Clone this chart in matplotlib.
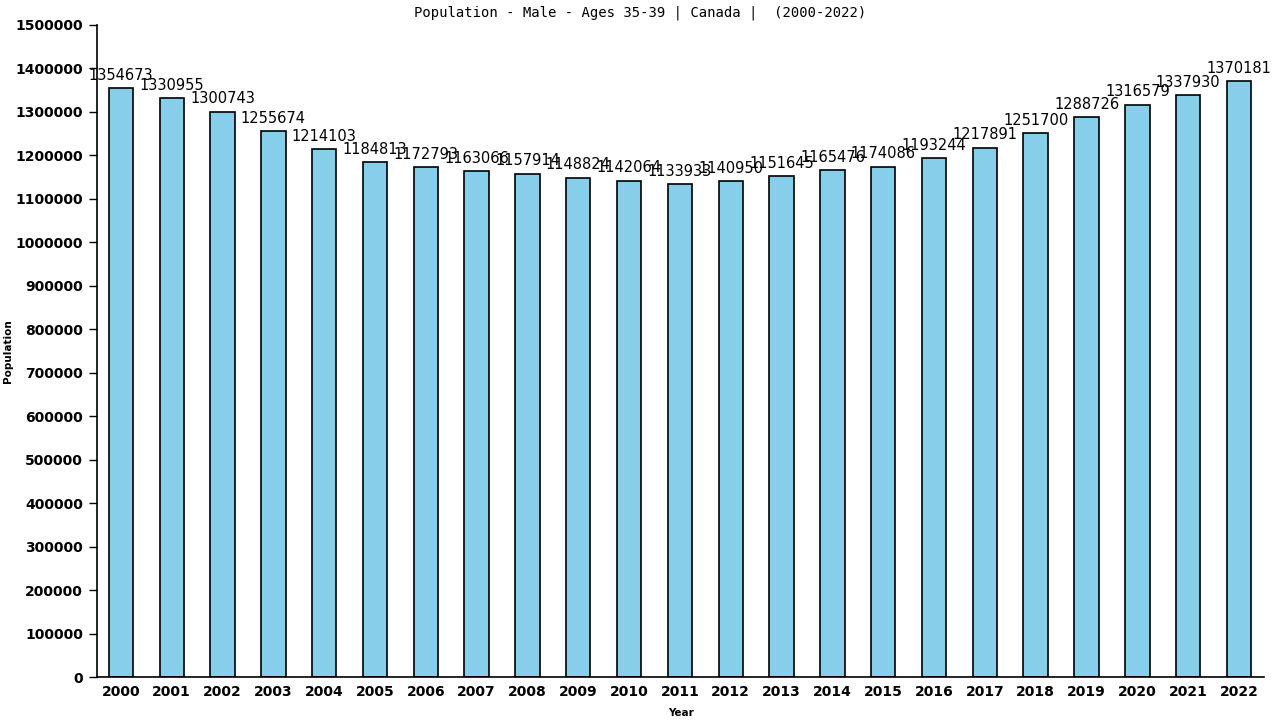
import matplotlib
matplotlib.use('Agg')
import matplotlib.pyplot as plt

years = [str(y) for y in range(2000, 2023)]
population = [1354673, 1330955, 1300743, 1255674, 1214103, 1184813, 1172793,
              1163066, 1157914, 1148824, 1142064, 1133933, 1140950, 1151645,
              1165476, 1174086, 1193244, 1217891, 1251700, 1288726, 1316579,
              1337930, 1370181]
yticks = list(range(0, 1500001, 100000))

fig = plt.figure(figsize=(12.8, 7.2), dpi=100)
ax = fig.add_axes([0.0758, 0.0597, 0.912, 0.9056])

x = range(len(years))
ax.bar(x, population, width=0.48, color='#87CEEB', edgecolor='black', linewidth=1.2)
for i, v in zip(x, population):
    ax.text(i, v + 12000, str(v), ha='center', va='bottom', fontsize=10.5,
            family='DejaVu Sans')

ax.set_xlim(-0.47, len(years) - 0.5)
ax.set_ylim(0, 1500000)
ax.set_xticks(list(x))
ax.set_xticklabels(years, fontsize=10, fontweight='bold')
ax.set_yticks(yticks)
ax.set_yticklabels([str(t) for t in yticks], fontsize=10, fontweight='bold')
ax.tick_params(axis='x', length=0, pad=6)
ax.tick_params(axis='y', length=6, width=1, pad=4)
for s in ['top', 'right']:
    ax.spines[s].set_visible(False)
ax.spines['left'].set_linewidth(1.2)
ax.spines['bottom'].set_linewidth(1.2)

ax.set_xlabel('Year', fontsize=7.5, fontweight='bold')
ax.xaxis.set_label_coords(0.5, -0.047)
ax.set_ylabel('Population', fontsize=7.5, fontweight='bold')
ax.yaxis.set_label_coords(-0.072, 0.5)
fig.text(0.5, 0.982, 'Population - Male - Ages 35-39 | Canada |  (2000-2022)',
         ha='center', va='center', fontsize=10, family='DejaVu Sans Mono')

fig.savefig('out.png', dpi=100)
